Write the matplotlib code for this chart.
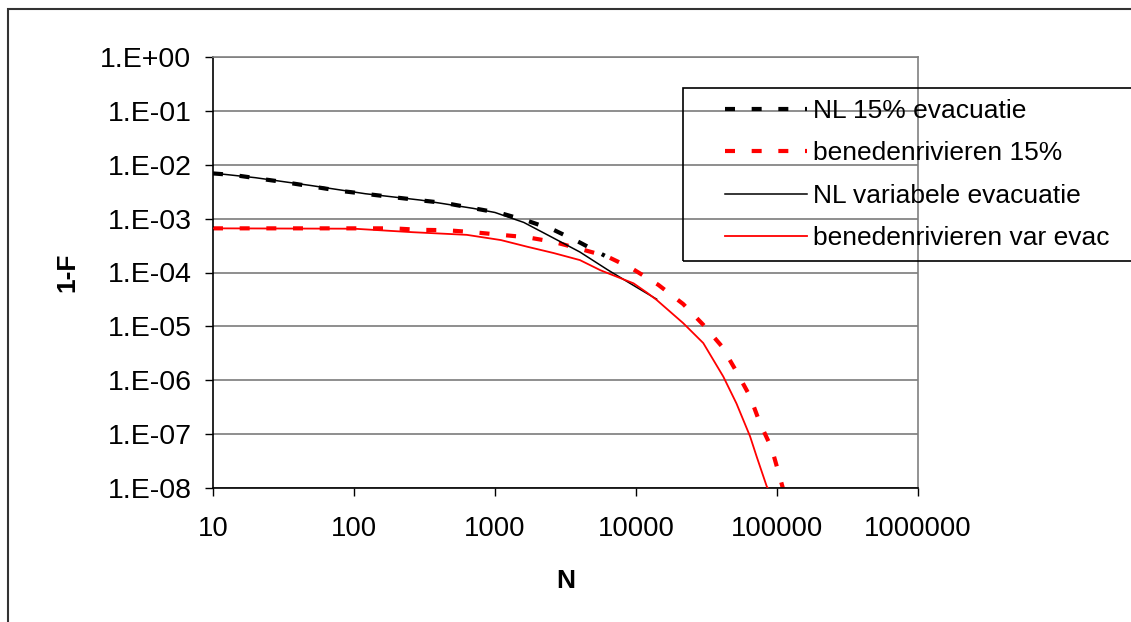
import matplotlib
matplotlib.use("Agg")
import matplotlib.pyplot as plt
from matplotlib.patches import Rectangle

plt.rcParams["font.family"] = ["Liberation Sans", "DejaVu Sans"]
plt.rcParams["font.size"] = 19

# NL 15% evacuatie
n_nl15 = [10, 14, 33, 80, 190, 450, 1100, 1700, 2600, 4000, 6000]
p_nl15 = [6.9e-3, 6.45e-3, 4.7e-3, 3.27e-3, 2.5e-3, 1.93e-3, 1.26e-3, 9.1e-4, 6.2e-4, 3.6e-4, 2.05e-4]

# benedenrivieren 15%
n_br15 = [10, 190, 290, 450, 700, 1100, 1700, 2600, 4000, 6200, 9300, 14400, 21600,
          30000, 40500, 51600, 64400, 75700, 91600, 104000, 110000]
p_br15 = [6.6e-4, 6.6e-4, 6.2e-4, 6.1e-4, 5.6e-4, 5.0e-4, 4.5e-4, 3.7e-4, 2.75e-4, 2.0e-4,
          1.2e-4, 5.9e-5, 2.6e-5, 1.07e-5, 4.3e-6, 1.45e-6, 5.0e-7, 1.6e-7, 5.5e-8, 1.7e-8, 1.0e-8]

# NL variabele evacuatie
n_nlvar = [10, 20, 50, 120, 300, 700, 1000, 1600, 2500, 4000, 6300, 10000, 14000]
p_nlvar = [7.0e-3, 5.75e-3, 4.1e-3, 2.9e-3, 2.2e-3, 1.55e-3, 1.3e-3, 8.5e-4, 4.6e-4, 2.4e-4,
           1.12e-4, 5.4e-5, 3.2e-5]

# benedenrivieren var evac
n_brvar = [10, 100, 260, 630, 1100, 1700, 2600, 4000, 5600, 9600, 12000, 14000, 21600,
           30000, 41600, 51600, 64400, 71800, 84600, 86000]
p_brvar = [6.6e-4, 6.5e-4, 5.6e-4, 5.0e-4, 4.0e-4, 3.0e-4, 2.3e-4, 1.7e-4, 1.1e-4, 6.3e-5,
           4.2e-5, 3.1e-5, 1.15e-5, 4.9e-6, 1.17e-6, 3.7e-7, 9.1e-8, 3.8e-8, 1.07e-8, 1.0e-8]

x_ticks = [10, 100, 1000, 10000, 100000, 1000000]
x_labels = ["10", "100", "1000", "10000", "100000", "1000000"]
y_ticks = [1e0, 1e-1, 1e-2, 1e-3, 1e-4, 1e-5, 1e-6, 1e-7, 1e-8]
y_labels = ["1.E+00", "1.E-01", "1.E-02", "1.E-03", "1.E-04", "1.E-05", "1.E-06", "1.E-07", "1.E-08"]

fig = plt.figure(figsize=(11.31, 6.22), dpi=100, facecolor="white")
ax = fig.add_axes([213/1131, 134/622, 705/1131, 431/622])

dash = (0, (2.4, 4.0))
ax.plot(n_nl15, p_nl15, color="black", lw=3, linestyle=dash, dash_capstyle="butt", label="NL 15% evacuatie")
ax.plot(n_nlvar, p_nlvar, color="black", lw=1.1, label="NL variabele evacuatie", zorder=3)
ax.plot(n_br15, p_br15, color="red", lw=3, linestyle=dash, dash_capstyle="butt", label="benedenrivieren 15%", zorder=2.5)
ax.plot(n_brvar, p_brvar, color="red", lw=1.3, label="benedenrivieren var evac", zorder=4)

ax.set_xscale("log")
ax.set_yscale("log")
ax.set_xlim(10, 1e6)
ax.set_ylim(1e-8, 1)
ax.set_xticks(x_ticks)
ax.set_xticklabels(x_labels, fontsize=19.8)
ax.set_yticks(y_ticks)
ax.set_yticklabels(y_labels, fontsize=20.5)
ax.minorticks_off()
ax.tick_params(axis="both", direction="out", length=6, width=1, color="black")
ax.tick_params(axis="y", pad=9.5)
ax.tick_params(axis="x", pad=14)
ax.grid(axis="y", color="#707070", lw=1.1)
ax.grid(axis="x", visible=False)
ax.spines["left"].set_color("black")
ax.spines["bottom"].set_color("black")
ax.spines["top"].set_color("#808080")
ax.spines["right"].set_color("#808080")
for s in ax.spines.values():
    s.set_linewidth(1.2)

ax.set_xlabel("N", fontweight="bold")
ax.set_ylabel("1-F", fontweight="bold")
ax.xaxis.set_label_coords(0.5, -0.188)
ax.yaxis.set_label_coords(-0.1895, 0.5)

# legenda (volgorde zoals in origineel)
h, l = ax.get_legend_handles_labels()
order = [0, 2, 1, 3]
fig.legend([h[i] for i in order], [l[i] for i in order], loc="upper left",
           bbox_to_anchor=(725/1131, 1 - 99/622), bbox_transform=fig.transFigure,
           frameon=False, borderpad=0, borderaxespad=0, handlelength=3.1,
           handletextpad=0.25, labelspacing=0.7)
fig.patches.append(Rectangle((683/1131, 1 - 261/622), 0.5, 173/622, transform=fig.transFigure,
                             fill=False, edgecolor="black", lw=1.2))

# kader rond de figuur
fig.patches.append(Rectangle((8/1131, -0.2), 1.2, 1.2 - 9/622, transform=fig.transFigure,
                             fill=False, edgecolor="#333333", lw=1.5))

fig.savefig("out.png", dpi=100)
